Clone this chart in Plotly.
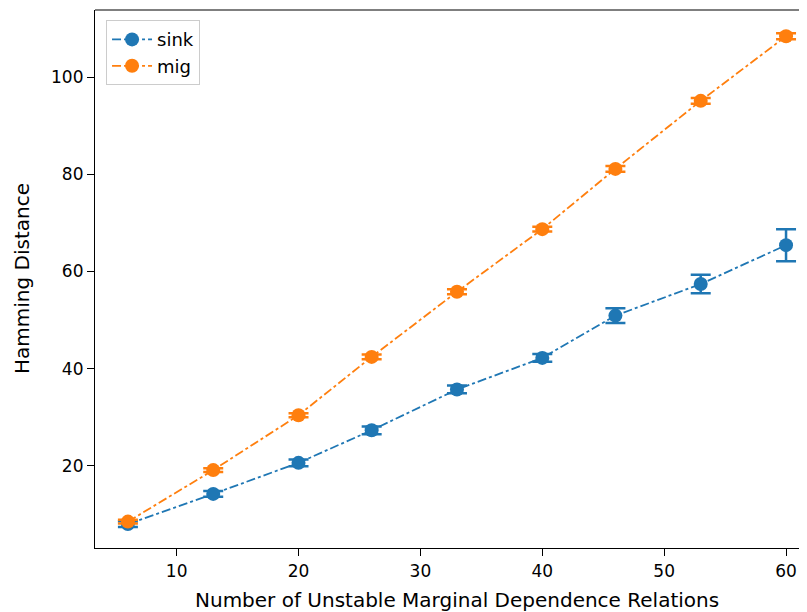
import plotly.graph_objects as go

x_vals = [6, 13, 20, 26, 33, 40, 46, 53, 60]
sink_mean = [8.0, 14.2, 20.6, 27.3, 35.7, 42.2, 50.9, 57.4, 65.4]
sink_err = [0.6, 0.6, 0.7, 0.8, 0.8, 0.8, 1.5, 1.9, 3.3]
mig_mean = [8.5, 19.1, 30.4, 42.4, 55.8, 68.7, 81.1, 95.1, 108.4]
mig_err = [0.4, 0.4, 0.4, 0.5, 0.5, 0.5, 0.6, 0.6, 0.6]
x_ticks = [10, 20, 30, 40, 50, 60]
y_ticks = [20, 40, 60, 80, 100]
x_title = "Number of Unstable Marginal Dependence Relations"
y_title = "Hamming Distance"

colors = {"sink": "#1f77b4", "mig": "#ff7f0e"}

fig = go.Figure()
for name, y, e in [("sink", sink_mean, sink_err), ("mig", mig_mean, mig_err)]:
    fig.add_trace(go.Scatter(
        x=x_vals, y=y, name=name, mode="lines+markers",
        line=dict(color=colors[name], width=1.8, dash="dashdot"),
        marker=dict(color=colors[name], size=14),
        error_y=dict(type="data", array=e, visible=True, color=colors[name],
                     thickness=2.5, width=10),
    ))

fig.update_layout(
    width=799, height=604,
    margin=dict(l=87, r=0, t=2, b=64),
    paper_bgcolor="white", plot_bgcolor="white",
    font=dict(family="DejaVu Sans", size=17, color="black"),
    showlegend=True,
    legend=dict(x=0.0155, y=0.981, xanchor="left", yanchor="top",
                bgcolor="rgba(255,255,255,0.8)", bordercolor="#cccccc", borderwidth=1,
                font=dict(size=18), itemwidth=40),
    xaxis=dict(range=[3.3, 61.72], tickvals=x_ticks,
               showgrid=False, zeroline=False, showline=True, linecolor="black", linewidth=1.2,
               ticks="outside", ticklen=7, tickcolor="black", tickfont=dict(size=17)),
    yaxis=dict(range=[3.07, 113.8], tickvals=y_ticks,
               showgrid=False, zeroline=False, showline=True, linecolor="black", linewidth=1.2,
               ticks="outside", ticklen=7, tickcolor="black", tickfont=dict(size=17)),
    shapes=[dict(type="line", xref="paper", yref="paper", x0=0, x1=1, y0=1, y1=1,
                 line=dict(color="black", width=1.2))],
    annotations=[
        dict(text=x_title, xref="paper", yref="paper", x=0.508, y=-0.097,
             xanchor="center", yanchor="middle", showarrow=False, font=dict(size=20)),
        dict(text=y_title, xref="paper", yref="paper", x=-0.1025, y=0.5, textangle=-90,
             xanchor="center", yanchor="middle", showarrow=False, font=dict(size=20)),
    ],
)

fig.write_html("out.html")
